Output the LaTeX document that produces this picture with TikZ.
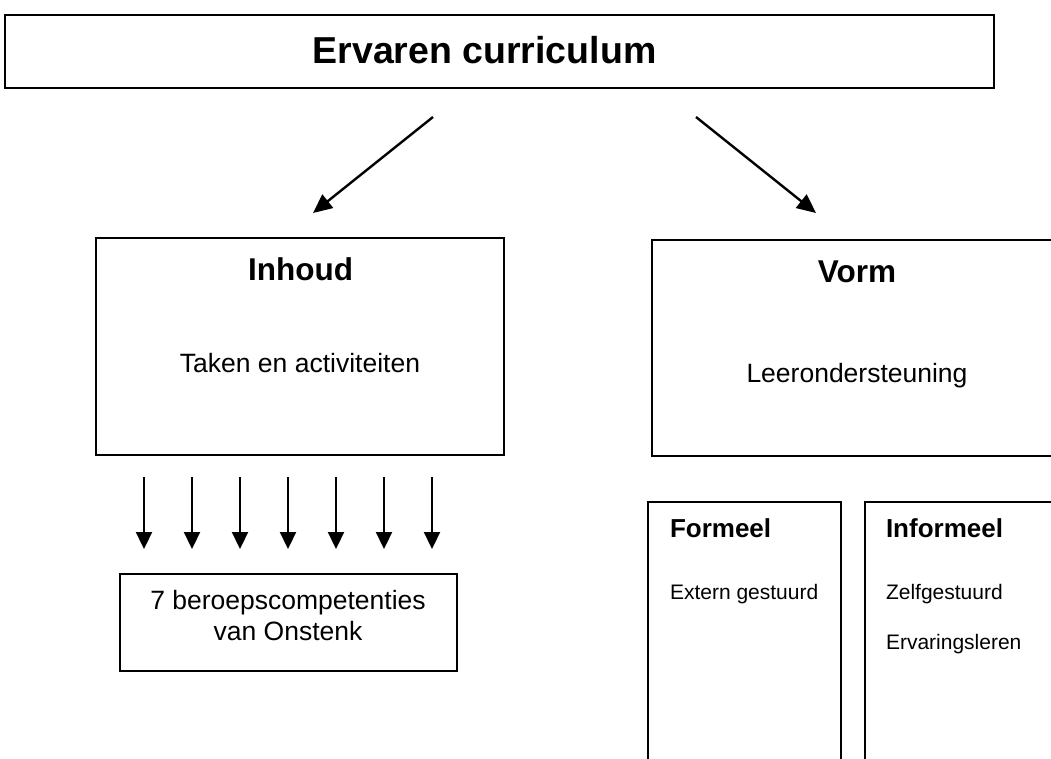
\documentclass[tikz,border=0pt]{standalone}
\usepackage{fontspec}
\setmainfont{Liberation Sans}
\usetikzlibrary{arrows.meta}
\tikzset{
  box/.style={draw, line width=1.8pt, inner sep=0pt, outer sep=0pt},
  txt/.style={inner sep=0pt, outer sep=0pt},
  bigtitle/.style={txt, font=\bfseries\fontsize{37.5}{44}\selectfont},
  heading/.style={txt, font=\bfseries\fontsize{31.5}{38}\selectfont},
  subheading/.style={txt, font=\bfseries\fontsize{26}{31}\selectfont},
  bodytext/.style={txt, font=\fontsize{26.5}{31}\selectfont},
  smalltext/.style={txt, font=\fontsize{21}{25}\selectfont},
  diagarrow/.style={line width=2.4pt, -{Triangle[length=19pt,width=17pt]}},
  downarrow/.style={line width=2.2pt, -{Triangle[length=17pt,width=16pt]}},
}
\begin{document}
\begin{tikzpicture}[x=1pt, y=-1pt]
\useasboundingbox (0,0) rectangle (1051,758);
\clip (0,0) rectangle (1051,758);

% boxes
\node[box, minimum width=989pt, minimum height=73pt] (top) at (499.5,51.5) {};
\node[box, minimum width=408pt, minimum height=217pt] (inhoud) at (300,346.5) {};
\node[box, minimum width=408pt, minimum height=216pt] (vorm) at (856,348) {};
\node[box, minimum width=337pt, minimum height=97pt] (comp) at (288.5,622.5) {};
\node[box, minimum width=193pt, minimum height=278pt] (formeel) at (744.5,641) {};
\node[box, minimum width=205pt, minimum height=278pt] (informeel) at (967.5,641) {};

% texts
\node[bigtitle, anchor=base] (toptext) at (484.5,63) {Ervaren curriculum};
\node[heading, anchor=base] (inhoudtitle) at (300.5,280) {Inhoud};
\node[bodytext, anchor=base] (taken) at (300,372) {Taken en activiteiten};
\node[heading, anchor=base] (vormtitle) at (857,282) {Vorm};
\node[bodytext, anchor=base] (leer) at (857,382) {Leerondersteuning};
\node[bodytext, anchor=base] (comp1) at (288,609) {7 beroepscompetenties};
\node[bodytext, anchor=base] (comp2) at (288,640) {van Onstenk};
\node[subheading, anchor=base west] (formeeltitle) at (670,537) {Formeel};
\node[smalltext, anchor=base west] (extern) at (670,599) {Extern gestuurd};
\node[subheading, anchor=base west] (informeeltitle) at (886,537) {Informeel};
\node[smalltext, anchor=base west] (zelf) at (886,599) {Zelfgestuurd};
\node[smalltext, anchor=base west] (ervar) at (886,649) {Ervaringsleren};

% diagonal arrows
\coordinate (ls) at (433,117);
\coordinate (le) at (313,213);
\coordinate (rs) at (696,117);
\coordinate (re) at (816,213);
\draw[diagarrow] (ls) -- (le);
\draw[diagarrow] (rs) -- (re);

% seven down arrows
\foreach \i/\x in {1/144,2/192,3/240,4/288,5/336,6/384,7/432} {
  \coordinate (ds\i) at (\x,477);
  \coordinate (de\i) at (\x,549);
  \draw[downarrow] (ds\i) -- (de\i);
}
\end{tikzpicture}
\end{document}
